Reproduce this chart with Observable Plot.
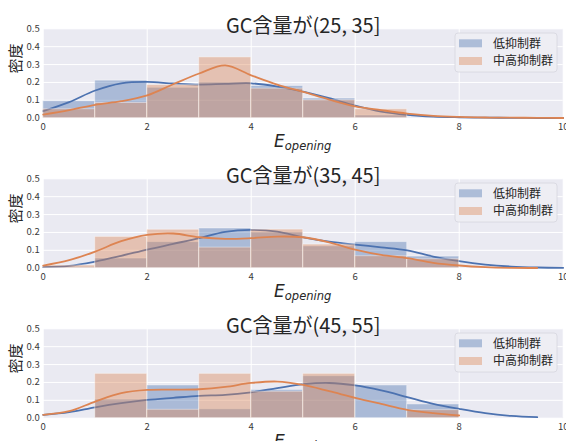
<!DOCTYPE html>
<html><head><meta charset="utf-8">
<script src="https://cdn.jsdelivr.net/npm/d3@7"></script>
<script src="https://cdn.jsdelivr.net/npm/@observablehq/plot@0.6"></script>
<style>
body{margin:0;background:#fff;overflow:hidden;width:566px;height:441px}
#chart svg{display:block}
</style></head><body><div id="chart"></div>
<script>
// ---- data ----
const titles = ["GC含量が(25, 35]", "GC含量が(35, 45]", "GC含量が(45, 55]"];
const groups = ["低抑制群", "中高抑制群"];
const binEdges = [0, 1, 2, 3, 4, 5, 6, 7, 8];
const xTicks = [0, 2, 4, 6, 8, 10];
const yTicks = [0, 0.1, 0.2, 0.3, 0.4, 0.5];

// histogram densities per bin (0-1 ... 7-8)
const histLow1 = [0.095, 0.21, 0.17, 0.20, 0.18, 0.11, 0.015, 0];
const histMid1 = [0.05, 0.085, 0.185, 0.34, 0.165, 0.10, 0.05, 0];
const histLow2 = [0.005, 0.054, 0.146, 0.222, 0.20, 0.122, 0.146, 0.065];
const histMid2 = [0.015, 0.175, 0.215, 0.115, 0.216, 0.132, 0.067, 0.05];
const histLow3 = [0, 0.104, 0.183, 0.05, 0.158, 0.235, 0.183, 0.077];
const histMid3 = [0, 0.248, 0.047, 0.248, 0.148, 0.248, 0, 0.045];

// KDE curve read at x = 0, 0.5, ..., 10
const kdeX = [0, 0.5, 1, 1.5, 2, 2.5, 3, 3.5, 4, 4.5, 5, 5.5, 6, 6.5, 7, 7.5, 8, 8.5, 9, 9.5, 10];
const kdeLow1 = [0.04, 0.09, 0.155, 0.195, 0.203, 0.194, 0.188, 0.192, 0.195, 0.177, 0.149, 0.112, 0.07, 0.037, 0.019, 0.009, 0.005, 0.003, 0.002, 0.001, 0.001];
const kdeMid1 = [0.02, 0.045, 0.075, 0.095, 0.128, 0.19, 0.25, 0.295, 0.24, 0.188, 0.147, 0.104, 0.066, 0.045, 0.026, 0.013, 0.007, 0.004, 0.003, 0.002, 0.001];
const kdeLow2 = [0.006, 0.013, 0.037, 0.069, 0.104, 0.136, 0.168, 0.203, 0.214, 0.205, 0.173, 0.149, 0.132, 0.117, 0.10, 0.065, 0.039, 0.02, 0.009, 0.004, 0.002];
const kdeMid2 = [0.015, 0.045, 0.093, 0.151, 0.186, 0.194, 0.173, 0.164, 0.168, 0.177, 0.173, 0.145, 0.104, 0.074, 0.056, 0.03, 0.015, 0.006, 0.002, 0.001, null];
const kdeLow3 = [0.019, 0.034, 0.061, 0.084, 0.102, 0.114, 0.125, 0.13, 0.145, 0.168, 0.19, 0.197, 0.183, 0.155, 0.118, 0.08, 0.052, 0.028, 0.013, 0.006, null];
const kdeMid3 = [0.019, 0.039, 0.093, 0.14, 0.158, 0.16, 0.162, 0.175, 0.197, 0.205, 0.186, 0.151, 0.114, 0.08, 0.047, 0.028, 0.015, null, null, null, null];

// ---- styling ----
const blue = "#4C72B0", orange = "#DD8452";
const cjk = "'Noto Sans CJK JP', 'Noto Sans', sans-serif";
const W = 566, H = 150;
const mL = 42.7, mR = 3.3, mT = 28.3, mB = 32.3;

const panels = [
  {title: titles[0], hist: [histLow1, histMid1], kde: [kdeLow1, kdeMid1]},
  {title: titles[1], hist: [histLow2, histMid2], kde: [kdeLow2, kdeMid2]},
  {title: titles[2], hist: [histLow3, histMid3], kde: [kdeLow3, kdeMid3]}
];

const root = document.getElementById("chart");

panels.forEach(p => {
  const groupMarks = [];
  groups.forEach((g, gi) => {
    const bars = p.hist[gi].map((v, i) => ({g, x1: binEdges[i], x2: binEdges[i + 1], y: v}));
    const pts = kdeX.map((x, i) => ({g, x, y: p.kde[gi][i]})).filter(d => d.y != null);
    groupMarks.push(
      Plot.rectY(bars, {x1: "x1", x2: "x2", y: "y", fill: "g", fillOpacity: 0.4, stroke: "#fff", strokeOpacity: 0.4, strokeWidth: 1}),
      Plot.line(pts, {x: "x", y: "y", stroke: "g", strokeWidth: 1.8, curve: "catmull-rom"})
    );
  });

  const svg = Plot.plot({
    width: W, height: H,
    marginLeft: mL, marginRight: mR, marginTop: mT, marginBottom: mB,
    x: {domain: [0, 10]},
    y: {domain: [0, 0.5]},
    color: {domain: groups, range: [blue, orange]},
    style: {fontFamily: cjk, fontSize: "9.5px", color: "#3a3a3a", background: "transparent", overflow: "visible"},
    marks: [
      Plot.frame({fill: "#EAEAF2", stroke: null}),
      Plot.gridX(xTicks, {stroke: "#fff", strokeOpacity: 1, strokeWidth: 1}),
      Plot.gridY(yTicks, {stroke: "#fff", strokeOpacity: 1, strokeWidth: 1}),
      Plot.axisX(xTicks, {tickSize: 0, tickPadding: 5.5, label: null, tickFormat: d3.format("d")}),
      Plot.axisY(yTicks, {tickSize: 0, tickPadding: 3.5, label: null, tickFormat: d3.format(".1f")}),
      ...groupMarks,
      Plot.text([p.title], {frameAnchor: "top", dy: -10.3, fontSize: 20, fill: "#262626", fontFamily: cjk}),
      Plot.text(["密度"], {frameAnchor: "left", dx: -27.5, rotate: -90, fontSize: 15, fill: "#262626", fontFamily: cjk})
    ]
  });

  const s = d3.select(svg);
  // x-axis label with subscript
  const xl = s.append("text")
    .attr("x", (mL + (W - mR)) / 2)
    .attr("y", 146.5)
    .attr("text-anchor", "middle")
    .attr("fill", "#262626")
    .style("font-family", "'DejaVu Sans', sans-serif")
    .style("font-style", "italic");
  xl.append("tspan").attr("font-size", 17).text("E");
  xl.append("tspan").attr("font-size", 11.5).attr("dy", 3.5).text("opening");

  // legend
  const lg = s.append("g").attr("transform", "translate(455,33)");
  lg.append("rect").attr("width", 102).attr("height", 39).attr("rx", 3)
    .attr("fill", "#EEEEF4").attr("stroke", "#D6D6DE").attr("stroke-width", 0.8);
  groups.forEach((g, gi) => {
    const yy = 10.3 + gi * 17.7;
    lg.append("rect").attr("x", 4).attr("y", yy - 4).attr("width", 23).attr("height", 8)
      .attr("fill", gi ? orange : blue).attr("fill-opacity", 0.4);
    lg.append("text").attr("x", 38).attr("y", yy).attr("dy", "0.36em")
      .attr("text-anchor", "start")
      .attr("font-size", 12).attr("fill", "#262626").style("font-family", cjk).text(g);
  });

  root.appendChild(svg);
});
</script>
</body></html>
